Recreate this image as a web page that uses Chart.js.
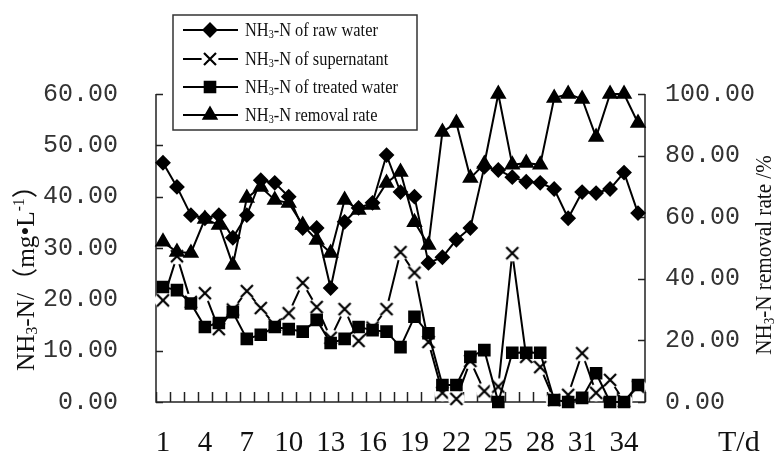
<!DOCTYPE html>
<html>
<head>
<meta charset="utf-8">
<script src="https://cdn.jsdelivr.net/npm/chart.js@4.4.1/dist/chart.umd.min.js"></script>
<style>
  html, body { margin: 0; padding: 0; background: #fff; }
  #wrap { width: 778px; height: 463px; }
</style>
</head>
<body>
<div id="wrap"><canvas id="ammoniaChart" width="778" height="463"></canvas></div>
<script>
// Day of operation
const days = ['1', '2', '3', '4', '5', '6', '7', '8', '9', '10', '11', '12', '13', '14', '15', '16', '17', '18',
    '19', '20', '21', '22', '23', '24', '25', '26', '27', '28', '29', '30', '31', '32', '33', '34', '35'];

// NH3-N concentrations, mg/L
const rawWater = [46.6, 41.9, 36.4, 35.8, 36.4, 32.0, 36.4, 43.2, 42.7, 40.0, 33.9, 33.9, 22.2, 35.1, 37.8, 38.8, 48.1, 40.9,
    40.0, 27.1, 28.2, 31.6, 33.9, 45.8, 45.2, 43.8, 42.9, 42.7, 41.5, 35.8, 40.9, 40.7, 41.5, 44.7, 36.8];
const supernatant = [19.8, 28.4, 19.5, 21.2, 14.2, 18.0, 21.6, 18.3, 15.0, 17.3, 23.2, 18.5, 12.5, 18.1, 11.9, 14.5, 18.1, 29.2,
    25.2, 11.7, 1.8, 0.6, 8.0, 2.1, 3.0, 29.0, 8.8, 6.8, 0.4, 1.4, 9.5, 1.8, 4.3, 0.2, 3.0];
const treatedWater = [22.4, 21.8, 19.2, 14.6, 15.4, 17.5, 12.3, 13.1, 14.6, 14.2, 13.7, 16.0, 11.5, 12.3, 14.6, 14.0, 13.7, 10.7,
    16.6, 13.4, 3.3, 3.3, 8.8, 10.1, 0.0, 9.6, 9.6, 9.6, 0.4, 0.0, 0.8, 5.6, 0.0, 0.0, 3.3];

// NH3-N removal rate, %
const removalRate = [52.0, 48.7, 48.4, 59.4, 57.5, 44.5, 66.2, 69.8, 65.6, 64.6, 57.5, 52.6, 48.4, 65.6, 62.3, 64.0, 71.1, 74.7,
    58.4, 51.0, 87.7, 90.6, 72.7, 77.3, 100.0, 77.0, 77.6, 77.0, 98.7, 100.0, 98.4, 86.0, 100.0, 100.0, 90.6];

// Axis ticks
const concTicks = [0, 10, 20, 30, 40, 50, 60];
const rateTicks = [0, 20, 40, 60, 80, 100];

const INK = '#111';
const SERIF = '"Liberation Serif", "Noto Sans CJK SC", serif';
const MONO = '"Liberation Mono", monospace';

/**
 * Builds the "x" marker: a black cross on a small white disc, so the
 * connecting line stops just short of the mark.
 */
function makeCrossMark() {
    const c = document.createElement('canvas');
    c.width = 20;
    c.height = 20;
    const g = c.getContext('2d');
    g.fillStyle = '#fff';
    g.beginPath();
    g.arc(10, 10, 8.5, 0, Math.PI * 2);
    g.fill();
    g.strokeStyle = '#000';
    g.lineWidth = 2.2;
    g.beginPath();
    g.moveTo(4, 4); g.lineTo(16, 16);
    g.moveTo(16, 4); g.lineTo(4, 16);
    g.stroke();
    return c;
}
const crossMark = makeCrossMark();

/**
 * Draws a run of text pieces (normal / sub / sup) starting at x, baseline y.
 * squeeze < 1 narrows the glyphs horizontally.
 */
function richWidth(ctx, runs, size, family) {
    let w = 0;
    runs.forEach(([t, kind]) => {
        ctx.font = `${kind ? size * 0.62 : size}px ${family}`;
        w += ctx.measureText(t).width;
    });
    return w;
}
function drawRich(ctx, runs, x, y, size, family, squeeze) {
    ctx.save();
    ctx.translate(x, y);
    ctx.scale(squeeze, 1);
    ctx.textBaseline = 'alphabetic';
    ctx.textAlign = 'left';
    ctx.fillStyle = INK;
    let cx = 0;
    runs.forEach(([t, kind]) => {
        ctx.font = `${kind ? size * 0.62 : size}px ${family}`;
        const dy = kind === 'sub' ? size * 0.12 : kind === 'sup' ? -size * 0.38 : 0;
        ctx.fillText(t, cx, dy);
        cx += ctx.measureText(t).width;
    });
    ctx.restore();
}
function drawRotatedTitle(ctx, runs, cx, cy, size, family, squeeze) {
    ctx.save();
    ctx.translate(cx, cy);
    ctx.rotate(-Math.PI / 2);
    const w = richWidth(ctx, runs, size, family) * squeeze;
    drawRich(ctx, runs, -w / 2, size * 0.33, size, family, squeeze);
    ctx.restore();
}

// Axis frame with inward tick marks
const framePlugin = {
    id: 'frame',
    beforeDatasetsDraw(chart) {
        const { ctx, chartArea: a, scales } = chart;
        ctx.save();
        ctx.strokeStyle = '#222';
        ctx.lineWidth = 1.5;
        ctx.beginPath();
        ctx.moveTo(a.left, a.top);
        ctx.lineTo(a.left, a.bottom);
        ctx.lineTo(a.right, a.bottom);
        ctx.lineTo(a.right, a.top);
        concTicks.forEach(v => {
            const y = Math.round(scales.y.getPixelForValue(v)) + 0.5;
            ctx.moveTo(a.left, y);
            ctx.lineTo(a.left + 7, y);
        });
        rateTicks.forEach(v => {
            const y = Math.round(scales.y1.getPixelForValue(v)) + 0.5;
            ctx.moveTo(a.right, y);
            ctx.lineTo(a.right - 7, y);
        });
        const step = scales.x.getPixelForValue(1) - scales.x.getPixelForValue(0);
        for (let i = 0; i <= days.length; i++) {
            const x = Math.round(scales.x.getPixelForValue(i) - step / 2) + 0.5;
            ctx.moveTo(x, a.bottom);
            ctx.lineTo(x, a.bottom - 10);
        }
        ctx.stroke();
        ctx.restore();
    },
    afterDraw(chart) {
        const { ctx, chartArea: a } = chart;

        // Axis titles
        drawRotatedTitle(ctx, [['NH'], ['3', 'sub'], ['-N/（mg•L'], ['-1', 'sup'], ['）']],
            25, (a.top + a.bottom) / 2 + 24, 26, SERIF, 0.97);
        drawRotatedTitle(ctx, [['NH'], ['3', 'sub'], ['-N removal rate /%']],
            763, (a.top + a.bottom) / 2 + 7, 24, SERIF, 0.88);

        ctx.save();
        ctx.font = `30px ${SERIF}`;
        ctx.fillStyle = INK;
        ctx.textBaseline = 'alphabetic';
        ctx.fillText('T/d', 718, 451);
        ctx.restore();

        // Legend box
        const box = { left: 173, top: 15, right: 417, bottom: 130 };
        ctx.save();
        ctx.fillStyle = '#fff';
        ctx.strokeStyle = '#333';
        ctx.lineWidth = 1.5;
        ctx.fillRect(box.left, box.top, box.right - box.left, box.bottom - box.top);
        ctx.strokeRect(box.left, box.top, box.right - box.left, box.bottom - box.top);
        const rows = [30, 59, 87, 115];
        chart.data.datasets.forEach((ds, i) => {
            const y = rows[i];
            ctx.strokeStyle = '#000';
            ctx.lineWidth = 2;
            ctx.beginPath();
            ctx.moveTo(183, y);
            ctx.lineTo(238, y);
            ctx.stroke();
            ctx.fillStyle = '#000';
            Chart.helpers.drawPoint(ctx, {
                pointStyle: ds.pointStyle,
                radius: ds.pointRadius,
                borderWidth: 1,
                rotation: 0
            }, 210, y);
            drawRich(ctx, ds.legendRuns, 245, y + 6, 19.5, SERIF, 0.84);
        });
        ctx.restore();
    }
};

const tickFont = { family: MONO, size: 25 };
const tickColor = '#333';
const fmt = v => Number(v).toFixed(2);

new Chart(document.getElementById('ammoniaChart'), {
    type: 'line',
    data: {
        labels: days,
        datasets: [
            {
                label: 'NH3-N of raw water',
                legendRuns: [['NH'], ['3', 'sub'], ['-N of raw water']],
                data: rawWater,
                yAxisID: 'y',
                borderColor: '#000',
                borderWidth: 2,
                pointStyle: 'rectRot',
                pointRadius: 6.5,
                pointBackgroundColor: '#000',
                pointBorderColor: '#000',
                order: 1
            },
            {
                label: 'NH3-N of supernatant',
                legendRuns: [['NH'], ['3', 'sub'], ['-N of supernatant']],
                data: supernatant,
                yAxisID: 'y',
                borderColor: '#000',
                borderWidth: 2,
                pointStyle: crossMark,
                pointRadius: 7,
                order: 9
            },
            {
                label: 'NH3-N of treated water',
                legendRuns: [['NH'], ['3', 'sub'], ['-N of treated water']],
                data: treatedWater,
                yAxisID: 'y',
                borderColor: '#000',
                borderWidth: 2,
                pointStyle: 'rect',
                pointRadius: 7.5,
                pointBackgroundColor: '#000',
                pointBorderColor: '#000',
                order: 2
            },
            {
                label: 'NH3-N removal rate',
                legendRuns: [['NH'], ['3', 'sub'], ['-N removal rate']],
                data: removalRate,
                yAxisID: 'y1',
                borderColor: '#000',
                borderWidth: 2,
                pointStyle: 'triangle',
                pointRadius: 7.5,
                pointBackgroundColor: '#000',
                pointBorderColor: '#000',
                order: 0
            }
        ]
    },
    options: {
        responsive: false,
        animation: false,
        devicePixelRatio: 1,
        clip: false,
        layout: { padding: { top: 94, left: 0, right: 0, bottom: 0 } },
        elements: { line: { tension: 0 } },
        plugins: {
            legend: { display: false },
            tooltip: { enabled: false }
        },
        scales: {
            x: {
                offset: true,
                grid: { display: false },
                border: { display: false },
                ticks: {
                    autoSkip: false,
                    maxRotation: 0,
                    padding: 16,
                    color: INK,
                    font: { family: SERIF, size: 29 },
                    callback: function (value, index) {
                        return index % 3 === 0 ? this.getLabelForValue(value) : '';
                    }
                },
                afterFit: scale => { scale.height = 61; }
            },
            y: {
                position: 'left',
                min: 0,
                max: 60,
                grid: { display: false },
                border: { display: false },
                ticks: { stepSize: 10, padding: 30, color: tickColor, font: tickFont, callback: fmt },
                afterFit: scale => { scale.width = 156; }
            },
            y1: {
                position: 'right',
                min: 0,
                max: 100,
                grid: { display: false },
                border: { display: false },
                ticks: { stepSize: 20, padding: 12, color: tickColor, font: tickFont, callback: fmt },
                afterFit: scale => { scale.width = 133; }
            }
        }
    },
    plugins: [framePlugin]
});
</script>
</body>
</html>
